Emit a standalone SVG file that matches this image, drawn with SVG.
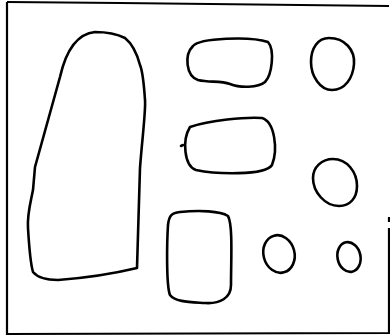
<svg xmlns="http://www.w3.org/2000/svg" width="390" height="336" viewBox="0 0 390 336">
<style>
.s{fill:none;stroke:#000;stroke-width:2.6;stroke-linejoin:round;stroke-linecap:round}
.f{fill:none;stroke:#000;stroke-width:2.2}
</style>
<rect width="390" height="336" fill="#fff"/>
<g id="frame">
<path class="f" d="M7,2 L120,3 L300,5 L389,6"/>
<path class="f" d="M7,2 L7,334 L389,333 L389,228"/>
<path class="f" d="M389,217 L389,222"/>
</g>
<g id="big-blob"><path class="s" d="M95,32 C75,34 65,55 60,77 L35,167 L33,190 C30,205 27,215 28,228 C29,245 30,262 33,272 C38,278 48,280 58,280 C85,278 112,274 137,268 L140,168 C142,140 146,110 145,100 C144,85 143,72 140,65 C136,50 130,42 125,38 C115,33 105,32 95,32 Z"/></g>
<g id="blob-top"><path class="s" d="M193,46 C200,38 250,36 268,42 C275,50 272,75 265,82 C258,88 240,88 230,84 C220,80 210,83 198,80 C186,76 184,55 193,46 Z"/></g>
<g id="blob-middle"><path class="s" d="M190,127 C210,120 245,117 262,118 C275,122 278,150 272,165 C265,176 215,174 196,170 C184,166 182,140 190,127 Z"/><path class="s" d="M183,145 L181,146"/></g>
<g id="rect-bottom"><path class="s" d="M180,212 C200,210 220,211 228,216 C233,225 231,260 231,285 C231,298 220,304 205,303 C190,302 175,302 170,295 C166,285 167,240 168,225 C169,215 172,213 180,212 Z"/></g>
<g id="oval-top-right"><path class="s" d="M329,38 C345,38 355,50 354,64 C353,78 345,90 332,90 C320,90 311,76 311,62 C311,48 318,38 329,38 Z"/></g>
<g id="oval-mid-right"><path class="s" d="M333,159 C347,159 357,172 357,186 C357,198 350,206 339,206 C325,206 313,192 313,178 C313,167 322,159 333,159 Z"/></g>
<g id="oval-small-1"><ellipse class="s" cx="279" cy="254" rx="15.5" ry="19" transform="rotate(-15 279 254)"/></g>
<g id="oval-small-2"><ellipse class="s" cx="349" cy="257" rx="11.5" ry="15" transform="rotate(-12 349 257)"/></g>
</svg>
